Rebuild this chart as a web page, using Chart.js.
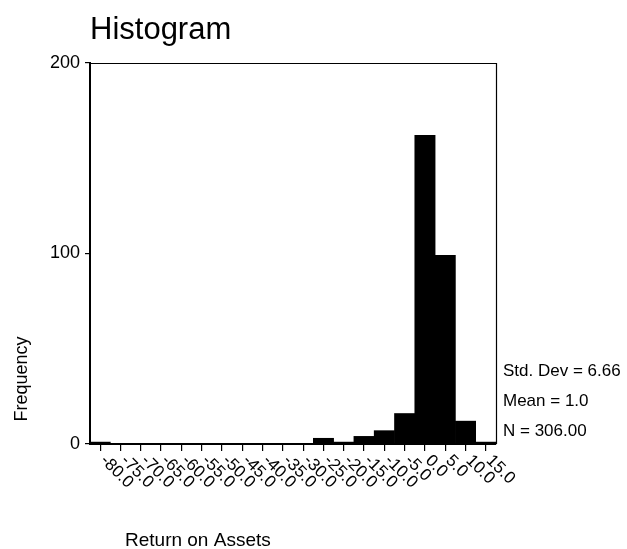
<!DOCTYPE html>
<html>
<head>
<meta charset="utf-8">
<title>Histogram</title>
<script src="https://cdn.jsdelivr.net/npm/chart.js@4.4.1/dist/chart.umd.min.js"></script>
<style>
  html, body { margin: 0; padding: 0; background: #fff; }
  #wrap { width: 627px; height: 549px; position: relative; }
</style>
</head>
<body>
<div id="wrap"><canvas id="chart" width="627" height="549"></canvas></div>
<script>
// Bin midpoints (Return on Assets, bin width 5)
const binLabels = ['-80.0', '-75.0', '-70.0', '-65.0', '-60.0', '-55.0', '-50.0', '-45.0',
  '-40.0', '-35.0', '-30.0', '-25.0', '-20.0', '-15.0', '-10.0', '-5.0', '0.0', '5.0', '10.0', '15.0'];
// Count of cases in each bin
const frequencies = [1, 0, 0, 0, 0, 0, 0, 0, 0, 0, 0, 3, 1, 4, 7, 16, 162, 99, 12, 1];
// Frequency axis ticks
const yTickValues = [0, 100, 200];
// Summary statistics shown beside the plot
const statLines = ['Std. Dev = 6.66', 'Mean = 1.0', 'N = 306.00'];

const FONT = '"Liberation Sans", Arial, Helvetica, sans-serif';

// Text, rotated bin labels and the top/right frame edges
const decorations = {
  id: 'decorations',
  afterDraw(chart) {
    const ctx = chart.ctx;
    const area = chart.chartArea;
    const xs = chart.scales.x;
    ctx.save();
    ctx.fillStyle = '#000';

    // frame: top and right edges
    ctx.strokeStyle = '#000';
    ctx.lineWidth = 1.2;
    ctx.beginPath();
    ctx.moveTo(area.left, area.top + 0.5);
    ctx.lineTo(area.right + 0.5, area.top + 0.5);
    ctx.lineTo(area.right + 0.5, area.bottom);
    ctx.stroke();

    // title
    ctx.font = '31px ' + FONT;
    ctx.textAlign = 'left';
    ctx.textBaseline = 'alphabetic';
    ctx.fillText('Histogram', 90, 39);

    // rotated bin labels, reading downward from each tick
    ctx.font = '17px ' + FONT;
    ctx.textBaseline = 'middle';
    binLabels.forEach((lab, i) => {
      const px = xs.getPixelForTick(i);
      ctx.save();
      ctx.translate(px + 3, area.bottom + 14);
      ctx.rotate(Math.PI / 4);
      ctx.fillText(lab, 0, 0);
      ctx.restore();
    });

    // axis titles
    ctx.font = '19px ' + FONT;
    ctx.textBaseline = 'middle';
    ctx.fillText('Return on Assets', 125, 541);

    ctx.save();
    ctx.translate(22, 379);
    ctx.rotate(-Math.PI / 2);
    ctx.textAlign = 'center';
    ctx.font = '18px ' + FONT;
    ctx.fillText('Frequency', 0, 0);
    ctx.restore();

    // statistics
    ctx.font = '17px ' + FONT;
    ctx.textAlign = 'left';
    ctx.textBaseline = 'middle';
    statLines.forEach((s, i) => {
      ctx.fillText(s, 503, 371 + i * 30);
    });

    ctx.restore();
  }
};

new Chart(document.getElementById('chart'), {
  type: 'bar',
  data: {
    labels: binLabels,
    datasets: [{
      data: frequencies,
      backgroundColor: '#000',
      borderWidth: 0,
      barPercentage: 1.0,
      categoryPercentage: 1.0
    }]
  },
  options: {
    responsive: false,
    animation: false,
    events: [],
    layout: { padding: { left: 0, top: 63, right: 131, bottom: 0 } },
    plugins: {
      legend: { display: false },
      title: { display: false },
      tooltip: { enabled: false }
    },
    scales: {
      x: {
        type: 'category',
        offset: true,
        grid: {
          offset: false,
          drawOnChartArea: false,
          drawTicks: true,
          tickLength: 7,
          color: '#000',
          lineWidth: 1.2
        },
        border: { display: true, color: '#000', width: 2 },
        ticks: { display: false },
        afterFit(scale) { scale.height = 105; }
      },
      y: {
        min: 0,
        max: 200,
        afterBuildTicks(scale) {
          scale.ticks = yTickValues.map(v => ({ value: v }));
        },
        grid: {
          drawOnChartArea: false,
          drawTicks: true,
          tickLength: 5,
          color: '#000',
          lineWidth: 1.2
        },
        border: { display: true, color: '#000', width: 2 },
        ticks: {
          color: '#000',
          padding: 5,
          font: { family: FONT, size: 18 }
        },
        afterFit(scale) { scale.width = 90; }
      }
    }
  },
  plugins: [decorations]
});
</script>
</body>
</html>
